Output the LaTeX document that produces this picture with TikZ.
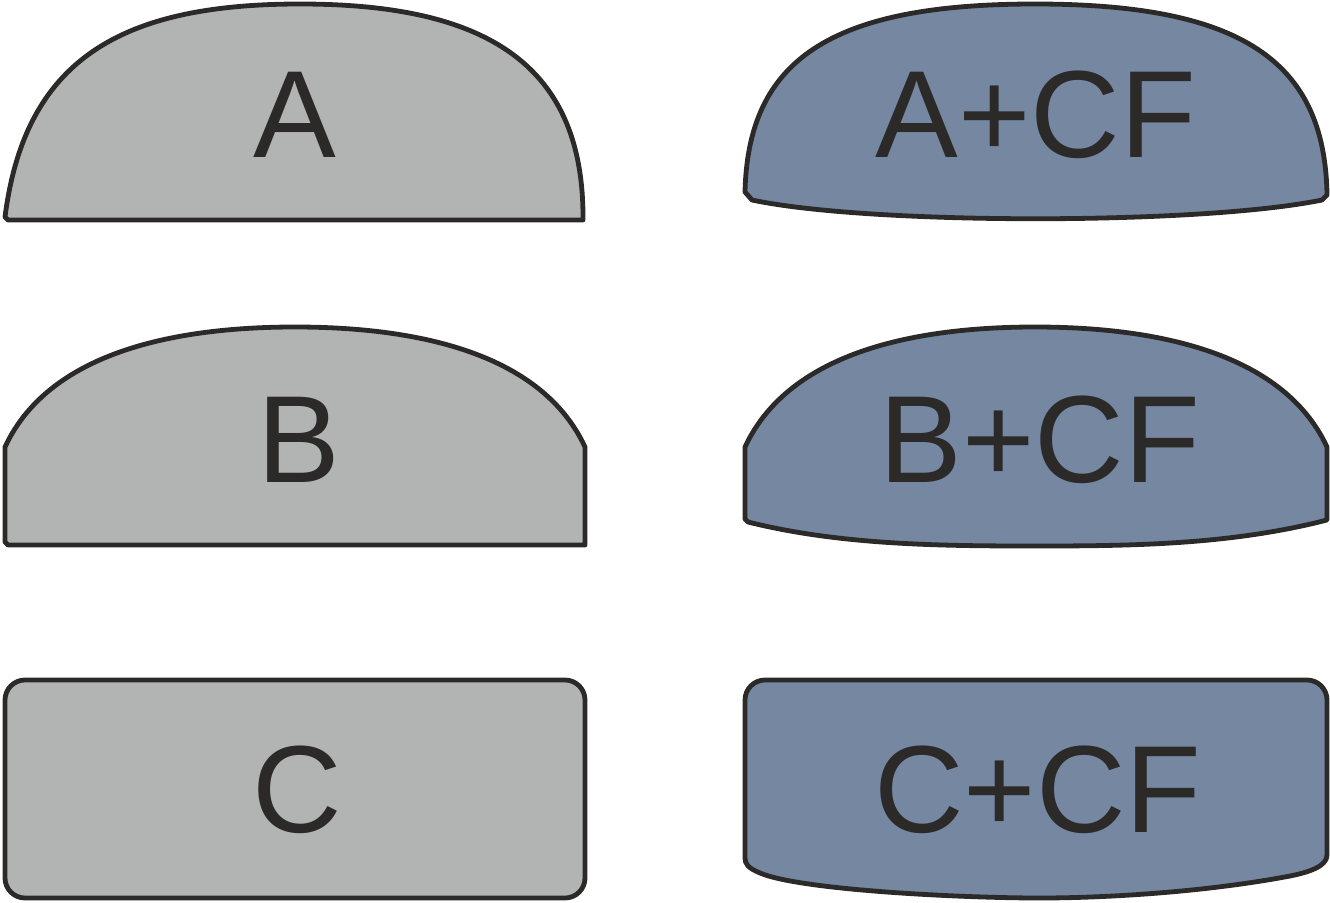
\documentclass[tikz,border=0pt]{standalone}
\usepackage{fontspec}
\setmainfont{Liberation Sans}
\definecolor{grayfill}{HTML}{B2B4B3}
\definecolor{bluefill}{HTML}{7587A1}
\definecolor{edge}{HTML}{2B2A29}
\begin{document}
\begin{tikzpicture}[x=1pt,y=-1pt,
  shapebox/.style={draw=edge,line width=4.8pt,line join=round},
  grayshape/.style={shapebox,fill=grayfill},
  blueshape/.style={shapebox,fill=bluefill},
  lbl/.style={anchor=base,text=edge,inner sep=0pt,font=\fontsize{124}{124}\selectfont}]
\useasboundingbox (0,0) rectangle (1330,902);
% A
\draw[grayshape] (5,217) .. controls (25,60) and (120,4) .. (300,4)
  .. controls (480,4) and (583,60) .. (583,217) -- (583,220) -- (8,220) -- cycle;
% A+CF
\draw[blueshape] (745,192) .. controls (748,60) and (830,4) .. (1035,4)
  .. controls (1240,4) and (1325,60) .. (1327,195) -- (1322,200)
  .. controls (1200,225) and (870,225) .. (752,200) -- cycle;
% B
\draw[grayshape] (5,447) .. controls (50,350) and (180,327) .. (295,327)
  .. controls (410,327) and (540,350) .. (585,447) -- (585,545) -- (8,545) -- (5,542) -- cycle;
% B+CF
\draw[blueshape] (745,447) .. controls (790,350) and (920,327) .. (1035,327)
  .. controls (1150,327) and (1282,350) .. (1327,447) -- (1327,520)
  .. controls (1230,545) and (1130,546) .. (1035,546)
  .. controls (940,546) and (840,545) .. (748,522) -- (745,519) -- cycle;
% C
\draw[grayshape,rounded corners=20pt] (5,680) rectangle (585,898);
% C+CF
\draw[blueshape] (745,858) -- (745,700) arc[start angle=180,end angle=270,radius=20]
  -- (1307,680) arc[start angle=270,end angle=360,radius=20] -- (1327,855)
  .. controls (1327,866) and (1310,872) .. (1290,876)
  .. controls (1200,893) and (1100,898) .. (1040,898)
  .. controls (960,898) and (800,890) .. (760,873)
  .. controls (748,868) and (745,864) .. cycle;
\node[lbl] (la) at (295,157) {A};
\node[lbl] (lacf) at (1036,157) {A+CF};
\node[lbl] (lb) at (299,482) {B};
\node[lbl] (lbcf) at (1040,482) {B+CF};
\node[lbl] (lc) at (297,832) {C};
\node[lbl] (lccf) at (1038,832) {C+CF};
\end{tikzpicture}
\end{document}
